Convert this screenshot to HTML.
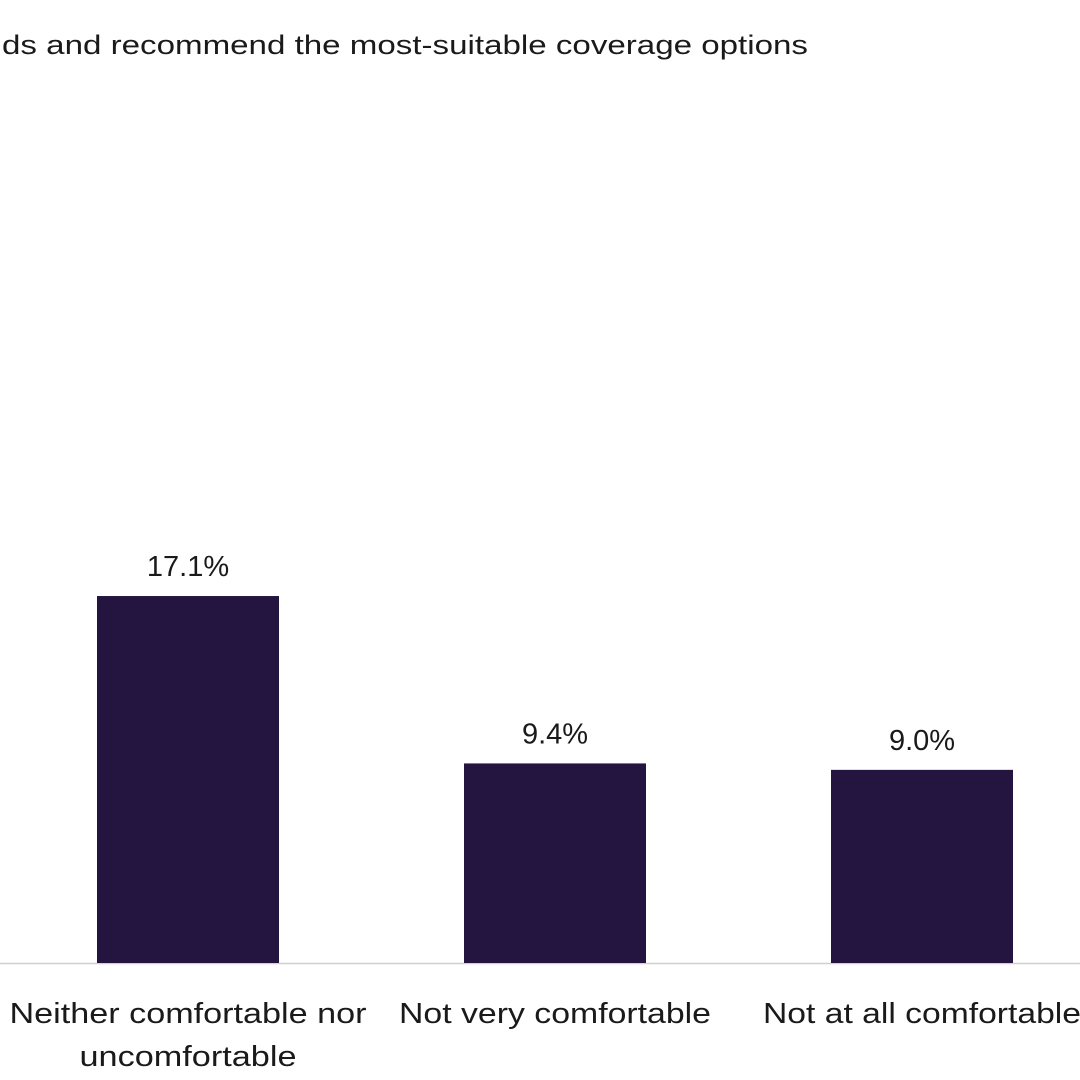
<!DOCTYPE html>
<html><head><meta charset="utf-8">
<style>
html,body{margin:0;padding:0;background:#fff;}
svg{display:block;font-family:"Liberation Sans",sans-serif;}
</style></head>
<body>
<svg id="chart" width="1080" height="1080" viewBox="0 0 1080 1080">
  <text x="2" y="54" font-size="27" fill="#1a1a1a" textLength="806" lengthAdjust="spacingAndGlyphs">ds and recommend the most-suitable coverage options</text>
  <line x1="0" y1="963.5" x2="1080" y2="963.5" stroke="#d0d0d0" stroke-width="1.5"/>
  <g id="bars"></g>
</svg>
<script>
const categories = [["Neither comfortable nor","uncomfortable"],["Not very comfortable"],["Not at all comfortable"]];
const values = [17.1, 9.3, 9.0];
const valueLabels = ["17.1%","9.4%","9.0%"];
const labelWidths = [[357, 217], [312], [318]];

const baseY = 963, pxPerPct = 21.46;
const firstCenter = 188, step = 367, barW = 182;
function yScale(v){ return baseY - v * pxPerPct; }
function xCenter(i){ return firstCenter + i * step; }

const NS = "http://www.w3.org/2000/svg";
const g = document.getElementById("bars");
values.forEach((v, i) => {
  const cx = xCenter(i);
  const r = document.createElementNS(NS, "rect");
  
  
  r.setAttribute("x", cx - barW/2);
  r.setAttribute("y", yScale(v));
  r.setAttribute("width", barW);
  r.setAttribute("height", baseY - yScale(v));
  r.setAttribute("fill", "#231440");
  g.appendChild(r);

  const t = document.createElementNS(NS, "text");
  
  
  t.setAttribute("x", cx);
  t.setAttribute("y", yScale(v) - 20);
  t.setAttribute("text-anchor", "middle");
  t.setAttribute("font-size", "29");
  t.setAttribute("fill", "#1a1a1a");
  t.textContent = valueLabels[i];
  g.appendChild(t);

  categories[i].forEach((line, j) => {
    const c = document.createElementNS(NS, "text");
    
    
    c.setAttribute("x", cx);
    c.setAttribute("y", 1023 + j * 43);
    c.setAttribute("text-anchor", "middle");
    c.setAttribute("font-size", "29");
    c.setAttribute("fill", "#1a1a1a");
    c.setAttribute("textLength", labelWidths[i][j]);
    c.setAttribute("lengthAdjust", "spacingAndGlyphs");
    c.textContent = line;
    g.appendChild(c);
  });
});
</script>
</body></html>
